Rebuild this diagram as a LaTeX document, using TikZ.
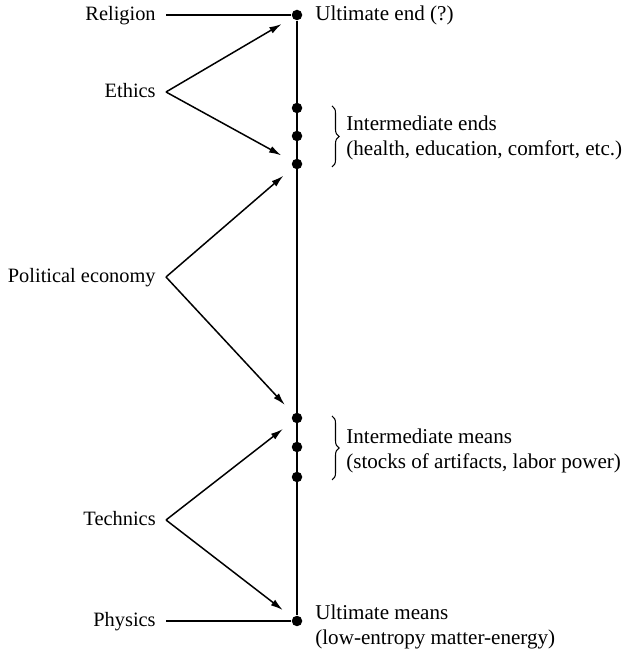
\documentclass[tikz,border=0pt]{standalone}
\usepackage{fontspec}
\setmainfont{Liberation Serif}
\usepackage{tikz}
\usetikzlibrary{arrows.meta, positioning, calc, decorations.pathreplacing}
\tikzset{
  field/.style={font=\fontsize{11.6}{14.2}\selectfont, inner xsep=0.2cm, inner ysep=0pt,
                text height=1.4ex, text depth=0pt, anchor=east},
  goal/.style={font=\fontsize{12}{14.2}\selectfont, inner sep=0pt, align=left, anchor=west},
  dot/.style={circle, fill=black, inner sep=0pt, minimum size=0.21cm},
  spine/.style={line width=1.3pt},
  plain/.style={line width=0.9pt},
  arr/.style={-{Latex[length=7pt,width=4pt]}, line width=0.85pt, shorten >=7pt},
  curly/.style={decorate, decoration={brace, amplitude=4pt}, line width=0.6pt},
}
\begin{document}
\begin{tikzpicture}
  \useasboundingbox (0,0) rectangle (12.48,13);

  %% ── the ends-means spine ──
  \node[dot] (uend)   at (5.94,12.70) {};
  \node[dot] (ie1)    at (5.94,10.84) {};
  \node[dot] (ie2)    at (5.94,10.28) {};
  \node[dot] (ie3)    at (5.94,9.72) {};
  \node[dot] (im1)    at (5.94,4.64) {};
  \node[dot] (im2)    at (5.94,4.06) {};
  \node[dot] (im3)    at (5.94,3.46) {};
  \node[dot] (umeans) at (5.94,0.58) {};
  \draw[spine] (uend) -- (umeans);

  %% ── disciplines ──
  \node[field] (religion) at (3.32,12.70) {Religion};
  \node[field] (ethics)   at (3.32,11.16) {Ethics};
  \node[field] (poleco)   at (3.32,7.46)  {Political economy};
  \node[field] (technics) at (3.32,2.60)  {Technics};
  \node[field] (physics)  at (3.32,0.58)  {Physics};

  \draw[plain] (religion.east) -- (uend);
  \draw[plain] (physics.east) -- (umeans);
  \draw[arr] (ethics.east) -- (uend);
  \draw[arr] (ethics.east) -- (ie3);
  \draw[arr] (poleco.east) -- (ie3);
  \draw[arr] (poleco.east) -- (im1);
  \draw[arr] (technics.east) -- (im1);
  \draw[arr] (technics.east) -- (umeans);

  %% ── labels on the right ──
  \node[goal] (uendtxt) at (6.30,12.70) {Ultimate end (?)};
  \draw[curly] ($(ie1)+(0.70,0.04)$) -- ($(ie3)+(0.70,-0.06)$);
  \node[goal] (iendtxt) at (6.92,10.25)
    {Intermediate ends\\(health, education, comfort, etc.)};
  \draw[curly] ($(im1)+(0.70,0.04)$) -- ($(im3)+(0.70,-0.06)$);
  \node[goal] (imeanstxt) at (6.92,3.99)
    {Intermediate means\\(stocks of artifacts, labor power)};
  \node[goal] (umeanstxt) at (6.30,0.47)
    {Ultimate means\\(low-entropy matter-energy)};
\end{tikzpicture}
\end{document}
